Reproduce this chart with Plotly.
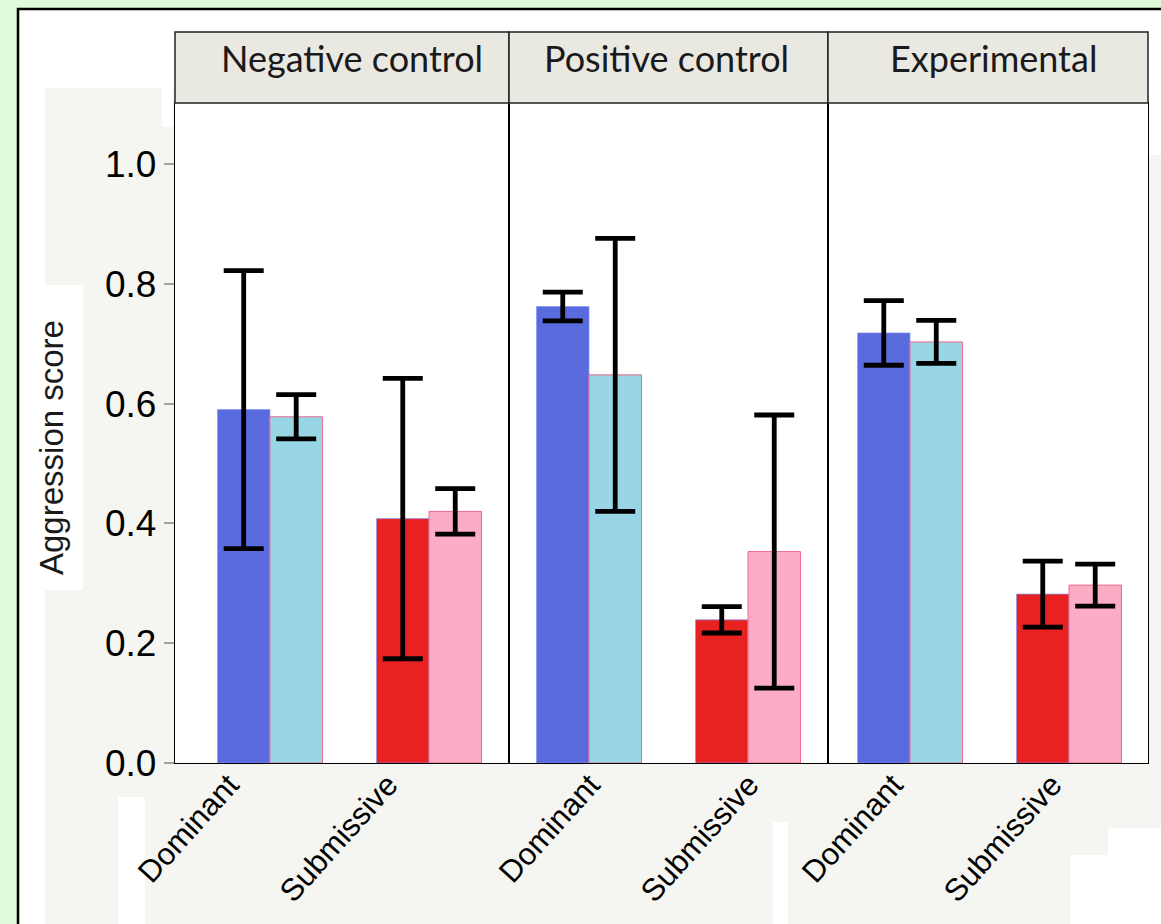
import plotly.graph_objects as go
from plotly.subplots import make_subplots

W, H = 1161, 924

panels = ["Negative control", "Positive control", "Experimental"]
categories = ["Dominant", "Submissive"]

# dark bars (blue for Dominant, red for Submissive) and light bars (cyan / pink)
dark_vals = [[0.590, 0.408], [0.762, 0.239], [0.718, 0.282]]
dark_err = [[0.232, 0.234], [0.024, 0.022], [0.054, 0.055]]
light_vals = [[0.578, 0.420], [0.648, 0.353], [0.703, 0.297]]
light_err = [[0.037, 0.038], [0.228, 0.228], [0.036, 0.035]]

dark_colors = ["#5a6bde", "#e82121"]
light_colors = ["#98d6e6", "#fcacc5"]

y_ticks = [0.0, 0.2, 0.4, 0.6, 0.8, 1.0]
y_tick_text = ["0.0", "0.2", "0.4", "0.6", "0.8", "1.0"]


def px_x(p):
    return p / W


def px_y(p):
    return 1 - p / H


# panel pixel boundaries
panel_edges = [175, 509, 828, 1148]
plot_top, plot_bottom = 103, 763
header_top = 32
x_ranges = [[-0.597, 1.503], [-0.503, 1.503], [-0.516, 1.497]]
label_shift = [-41, 1, -17]

fig = make_subplots(rows=1, cols=3, horizontal_spacing=0)

for i in range(3):
    fig.add_trace(go.Bar(
        x=categories, y=dark_vals[i],
        marker=dict(color=dark_colors, line=dict(color="rgba(130,150,255,0.7)", width=1)),
        error_y=dict(type="data", array=dark_err[i], color="black", thickness=4.8, width=20),
        showlegend=False,
    ), row=1, col=i + 1)
    fig.add_trace(go.Bar(
        x=categories, y=light_vals[i],
        marker=dict(color=light_colors, line=dict(color="#f06a8c", width=1)),
        error_y=dict(type="data", array=light_err[i], color="black", thickness=4.8, width=20),
        showlegend=False,
    ), row=1, col=i + 1)

y_dom = [px_y(plot_bottom), px_y(plot_top)]
y_top_val = (plot_bottom - plot_top) / ((plot_bottom - 164) / 1.0)

for i in range(3):
    xa = "xaxis" if i == 0 else f"xaxis{i + 1}"
    ya = "yaxis" if i == 0 else f"yaxis{i + 1}"
    fig.layout[xa].update(
        domain=[px_x(panel_edges[i]), px_x(panel_edges[i + 1])],
        range=x_ranges[i], automargin=False,
        showline=True, mirror=True, linecolor="black", linewidth=1.3,
        ticks="", tickangle=-48,
        ticklabelstandoff=-10, ticklabelshift=label_shift[i],
        tickfont=dict(family="Liberation Sans, Arial", size=31, color="black"),
        showgrid=False, zeroline=False,
    )
    fig.layout[ya].update(
        domain=y_dom, automargin=False,
        range=[0, y_top_val],
        showline=True, mirror=True, linecolor="black", linewidth=1.3,
        showgrid=False, zeroline=False,
        tickvals=y_ticks, ticktext=y_tick_text,
        showticklabels=(i == 0),
        ticks="outside" if i == 0 else "",
        ticklen=10, tickwidth=1.5, tickcolor="#a0a0a0",
        tickfont=dict(family="Liberation Sans, Arial", size=37, color="black"),
    )

shapes = []


def rect(x0, y0, x1, y1, fill, line=None, lw=0):
    shapes.append(dict(
        type="rect", xref="paper", yref="paper", layer="below",
        x0=px_x(x0), x1=px_x(x1), y0=px_y(y1), y1=px_y(y0),
        fillcolor=fill, line=dict(color=line or fill, width=lw),
    ))


# inner white page with black border
rect(18, 9, 1175, 940, "white", "black", 2.5)
# light grey background regions
rect(45, 88, 1161, 924, "#f5f5f1")
rect(175, 88, 1161, 155, "white")
rect(45, 285, 83, 590, "white")
rect(162, 88, 173, 127, "white")
rect(118, 797, 145, 924, "#ffffff")
rect(773, 822, 788, 924, "#ffffff")
rect(1108, 828, 1161, 924, "#ffffff")
rect(1070, 855, 1161, 924, "#ffffff")
# white plotting panels
rect(panel_edges[0], plot_top, panel_edges[3], plot_bottom, "white")

# header strips
for i in range(3):
    shapes.append(dict(
        type="rect", xref="paper", yref="paper", layer="above",
        x0=px_x(panel_edges[i]), x1=px_x(panel_edges[i + 1]),
        y0=px_y(plot_top), y1=px_y(header_top),
        fillcolor="#e9e8e1", line=dict(color="#222222", width=1.5),
    ))

annotations = []
header_centers = [352, 666, 993]
for i, name in enumerate(panels):
    annotations.append(dict(
        text=name, xref="paper", yref="paper",
        x=px_x(header_centers[i]), y=px_y(58),
        xanchor="center", yanchor="middle", showarrow=False,
        font=dict(family="Lato, Noto Sans", size=36, color="#1a1a1a"),
    ))

annotations.append(dict(
    text="Aggression score", xref="paper", yref="paper",
    x=px_x(51), y=px_y(448), xanchor="center", yanchor="middle",
    textangle=-90, showarrow=False,
    font=dict(family="Liberation Sans, Arial", size=33, color="#1a1a1a"),
))

fig.update_layout(
    width=W, height=H,
    margin=dict(l=0, r=0, t=0, b=0, pad=0, autoexpand=False),
    paper_bgcolor="#dffad8",
    plot_bgcolor="white",
    barmode="group", bargap=0.34, bargroupgap=0,
    shapes=shapes, annotations=annotations,
)

fig.write_html(
    "out.html",
    config={"displayModeBar": False},
    post_script="document.body.style.margin='0';document.body.style.background='#dffad8';",
)
